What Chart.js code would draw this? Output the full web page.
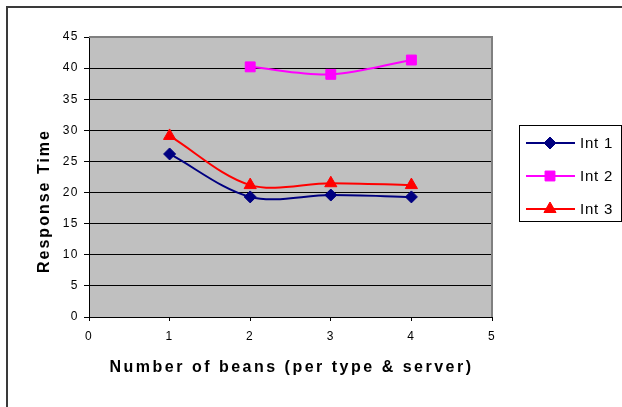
<!DOCTYPE html>
<html>
<head>
<meta charset="utf-8">
<script src="https://cdn.jsdelivr.net/npm/chart.js@4/dist/chart.umd.min.js"></script>
<style>
  html, body { margin: 0; padding: 0; background: #fff; }
  #wrap { width: 622px; height: 407px; position: relative; }
</style>
</head>
<body>
<div id="wrap"><canvas id="c" width="622" height="407"></canvas></div>
<script>
// Response time per number of beans, for three interaction types
const beans = [1, 2, 3, 4];
const int1 = [26.2, 19.3, 19.6, 19.3];
const int2 = [null, 40.2, 39.0, 41.3];
const int3 = [29.1, 21.2, 21.5, 21.2];
const seriesNames = ['Int 1', 'Int 2', 'Int 3'];
const xTicks = [0, 1, 2, 3, 4, 5];
const yTicks = [0, 5, 10, 15, 20, 25, 30, 35, 40, 45];

const xTitle = 'Number of beans (per type & server)';
const yTitle = 'Response Time';

const FONT = '"Liberation Sans", Arial, sans-serif';

function toPoints(vals) {
  return beans.map((b, i) => ({ x: b, y: vals[i] })).filter(p => p.y !== null);
}

const styles = [
  { color: '#000080', point: 'rectRot', radius: 6 },
  { color: '#FF00FF', point: 'rect', radius: 7 },
  { color: '#FF0000', point: 'triangle', radius: 7 }
];
const seriesData = [int1, int2, int3];

const datasets = seriesData.map((vals, i) => ({
  label: seriesNames[i],
  data: toPoints(vals),
  borderColor: styles[i].color,
  backgroundColor: styles[i].color,
  pointBackgroundColor: styles[i].color,
  pointBorderColor: styles[i].color,
  pointStyle: styles[i].point,
  pointRadius: styles[i].radius,
  pointBorderWidth: 1,
  borderWidth: 2,
  tension: 0.33,
  fill: false
}));

// Page frame, plot background, axis titles and the boxed legend
const decor = {
  id: 'decor',
  beforeDraw(chart) {
    const ctx = chart.ctx;
    const a = chart.chartArea;
    ctx.save();
    ctx.fillStyle = '#ffffff';
    ctx.fillRect(0, 0, chart.width, chart.height);
    ctx.strokeStyle = '#3a3a3a';
    ctx.lineWidth = 2;
    ctx.beginPath();
    ctx.moveTo(7, chart.height);
    ctx.lineTo(7, 7);
    ctx.lineTo(chart.width, 7);
    ctx.stroke();
    ctx.fillStyle = '#C0C0C0';
    ctx.fillRect(a.left, a.top, a.right - a.left, a.bottom - a.top);
    ctx.restore();
    ctx.letterSpacing = '1.5px';
  },
  beforeDatasetsDraw(chart) {
    const ctx = chart.ctx;
    const a = chart.chartArea;
    ctx.letterSpacing = '0px';
    ctx.save();
    ctx.strokeStyle = '#808080';
    ctx.lineWidth = 2;
    ctx.beginPath();
    ctx.moveTo(a.left, a.top);
    ctx.lineTo(a.right, a.top);
    ctx.lineTo(a.right, a.bottom);
    ctx.stroke();
    ctx.restore();
  },
  afterDraw(chart) {
    const ctx = chart.ctx;
    const a = chart.chartArea;
    ctx.save();
    ctx.fillStyle = '#000';
    ctx.font = 'bold 16px ' + FONT;
    ctx.letterSpacing = '2.5px';
    ctx.textAlign = 'center';
    ctx.textBaseline = 'middle';
    ctx.fillText(xTitle, (a.left + a.right) / 2 + 1, 368);
    ctx.letterSpacing = '2px';
    ctx.translate(45, 201);
    ctx.rotate(-Math.PI / 2);
    ctx.fillText(yTitle, 0, 0);
    ctx.restore();

    // legend
    ctx.save();
    ctx.strokeStyle = '#000';
    ctx.lineWidth = 1;
    ctx.strokeRect(519.5, 125.5, 102, 96);
    ctx.font = '15px ' + FONT;
    ctx.letterSpacing = '0.8px';
    ctx.textAlign = 'left';
    ctx.textBaseline = 'middle';
    const rows = [143, 176, 209];
    chart.data.datasets.forEach((ds, i) => {
      const y = rows[i];
      ctx.strokeStyle = ds.borderColor;
      ctx.lineWidth = 2;
      ctx.beginPath();
      ctx.moveTo(526, y);
      ctx.lineTo(575, y);
      ctx.stroke();
      ctx.fillStyle = ds.pointBackgroundColor;
      ctx.strokeStyle = ds.pointBorderColor;
      ctx.lineWidth = 1;
      Chart.helpers.drawPoint(ctx, { pointStyle: ds.pointStyle, radius: ds.pointRadius, borderWidth: 1, rotation: 0 }, 550, y);
      ctx.fillStyle = '#000';
      ctx.fillText(ds.label, 580, y + 1);
    });
    ctx.restore();
  }
};

new Chart(document.getElementById('c'), {
  type: 'line',
  data: { datasets },
  options: {
    responsive: false,
    animation: false,
    devicePixelRatio: 1,
    layout: { padding: { top: 37, right: 130, left: 0, bottom: 0 } },
    plugins: {
      legend: { display: false },
      tooltip: { enabled: false },
      title: { display: false }
    },
    scales: {
      x: {
        type: 'linear',
        min: 0,
        max: 5,
        afterFit(scale) { scale.height = 90; },
        afterBuildTicks(scale) { scale.ticks = xTicks.map(v => ({ value: v })); },
        grid: {
          drawOnChartArea: false,
          drawTicks: true,
          tickLength: 4,
          tickColor: '#000',
          color: '#000'
        },
        border: { display: true, color: '#000', width: 1 },
        ticks: {
          color: '#000',
          padding: 8,
          maxRotation: 0,
          font: { family: FONT, size: 12 }
        },
        title: { display: false }
      },
      y: {
        type: 'linear',
        min: 0,
        max: 45,
        afterFit(scale) { scale.width = 89; },
        afterBuildTicks(scale) { scale.ticks = yTicks.map(v => ({ value: v })); },
        grid: {
          drawOnChartArea: true,
          drawTicks: true,
          tickLength: 5,
          tickColor: '#000',
          color: ctx => (ctx.tick && ctx.tick.value === 45 ? '#808080' : '#000'),
          lineWidth: 1
        },
        border: { display: true, color: '#000', width: 1 },
        ticks: {
          color: '#000',
          padding: 5,
          font: { family: FONT, size: 12 }
        },
        title: { display: false }
      }
    }
  },
  plugins: [decor]
});
</script>
</body>
</html>
